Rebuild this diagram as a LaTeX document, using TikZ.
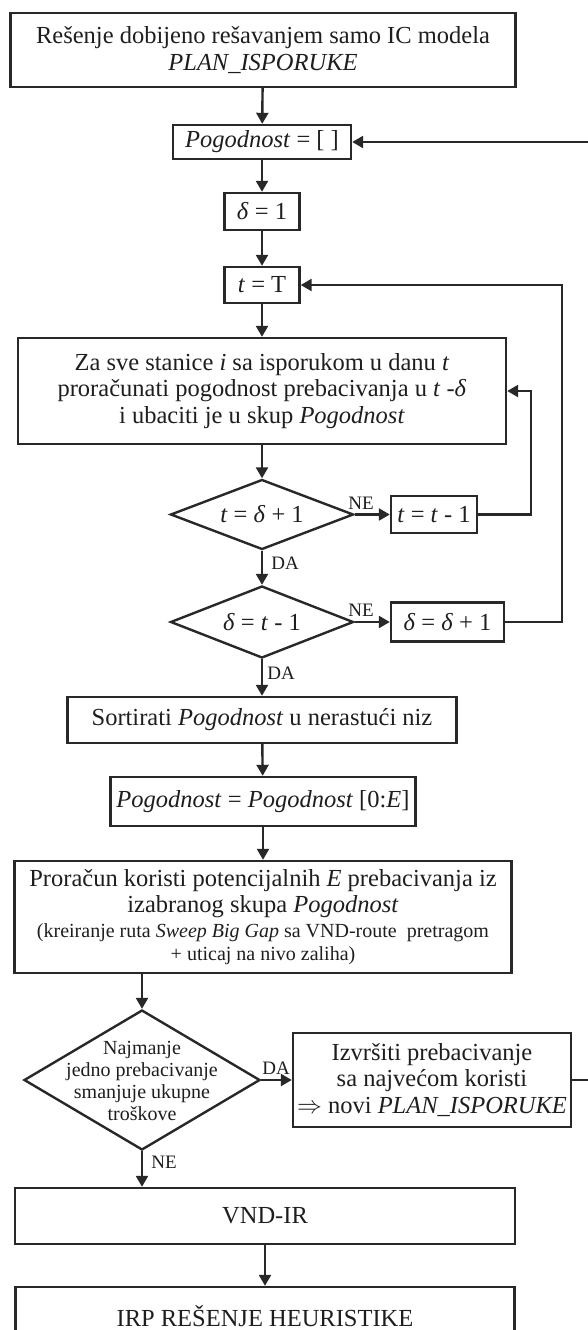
\documentclass[tikz,border=0pt]{standalone}
\usepackage{fontspec}
\setmainfont{Liberation Serif}
\usetikzlibrary{shapes.geometric,arrows.meta}
\definecolor{ln}{RGB}{40,40,40}
\definecolor{tx}{RGB}{30,30,30}
\newcommand\mainf{\fontsize{24.5}{26.5}\selectfont}
\newcommand\smallb{\fontsize{20}{26.5}\selectfont}
\newcommand\smalld{\fontsize{20}{22.3}\selectfont}
\newcommand\lblf{\fontsize{19}{21}\selectfont}
\tikzset{
  box/.style={draw=ln, line width=2.4pt, inner sep=0pt, align=center, text=tx, font=\mainf},
  dia/.style={draw=ln, line width=2.4pt, diamond, inner sep=0pt},
  dtext/.style={inner sep=0pt, align=center, text=tx},
  arr/.style={draw=ln, line width=2.4pt, -{Triangle[length=11pt,width=12pt]}},
  lbl/.style={font=\lblf, text=tx, inner sep=0pt},
}
\begin{document}
\begin{tikzpicture}[x=1pt,y=-1pt]
\useasboundingbox (0,0) rectangle (587,1330);
% boxes
\node[box, minimum width=505pt, minimum height=74pt] (b1) at (263,50)
  {Rešenje dobijeno rešavanjem samo IC modela\\ \textit{PLAN\_ISPORUKE}};
\node[box, minimum width=178pt, minimum height=34pt] (b2) at (262,142)
  {\textit{Pogodnost} = [ ]};
\node[box, minimum width=75pt, minimum height=37pt] (b3) at (262,211.5)
  {\textit{δ} = 1};
\node[box, minimum width=75pt, minimum height=36pt] (b4) at (262,285)
  {\textit{t} = T};
\node[box, minimum width=488pt, minimum height=106pt] (b5) at (262,391)
  {Za sve stanice \textit{i} sa isporukom u danu \textit{t}\\
   proračunati pogodnost prebacivanja u \textit{t} -\textit{δ}\\
   i ubaciti je u skup \textit{Pogodnost}};
\node[dia, minimum width=183pt, minimum height=70pt] (d1) at (262,514.5) {};
\node[dtext, font=\mainf] (d1t) at (d1.center) {\textit{t} = \textit{δ} + 1};
\node[box, minimum width=86pt, minimum height=37pt] (bt) at (434,514.5)
  {\textit{t} = \textit{t} - 1};
\node[dia, minimum width=183pt, minimum height=72pt] (d2) at (262,622) {};
\node[dtext, font=\mainf] (d2t) at (d2.center) {\textit{δ} = \textit{t} - 1};
\node[box, minimum width=113pt, minimum height=39pt] (bd) at (447.5,622)
  {\textit{δ} = \textit{δ} + 1};
\node[box, minimum width=389pt, minimum height=46pt] (b6) at (262,720)
  {Sortirati \textit{Pogodnost} u nerastući niz};
\node[box, minimum width=305pt, minimum height=49pt] (b7) at (263,801.5)
  {\textit{Pogodnost} = \textit{Pogodnost} [0:\textit{E}]};
\node[box, minimum width=497pt, minimum height=112pt] (b8) at (263,917)
  {Proračun koristi potencijalnih \textit{E} prebacivanja iz\\
   izabranog skupa \textit{Pogodnost}\\[-1.5pt]
   \smallb (kreiranje ruta \textit{Sweep Big Gap} sa VND-route\ \ pretragom\\[-3.5pt]
   \smallb + uticaj na nivo zaliha)};
\node[dia, minimum width=236pt, minimum height=140pt] (d3) at (142,1080) {};
\node[dtext, font=\smalld] (d3t) at (142,1081)
  {Najmanje\\ jedno prebacivanje\\ smanjuje ukupne\\ troškove};
\node[box, minimum width=278pt, minimum height=94pt] (b9) at (432,1080)
  {Izvršiti prebacivanje\\ sa najvećom koristi\\ $\Rightarrow$ novi \textit{PLAN\_ISPORUKE}};
\node[box, minimum width=500pt, minimum height=56pt] (b10) at (265,1216) {VND-IR};
\node[box, minimum width=499pt, minimum height=58pt] (b11) at (265,1316)
  {IRP REŠENJE HEURISTIKE};
% labels
\node[lbl] (ne1) at (361,503) {NE};
\node[lbl] (da1) at (285,563) {DA};
\node[lbl] (ne2) at (361,610) {NE};
\node[lbl] (da2) at (281,673) {DA};
\node[lbl] (da3) at (276,1068) {DA};
\node[lbl] (ne3) at (164,1162) {NE};
% corner coordinates for loops
\coordinate (c1) at (531,0);
\coordinate (c2) at (562,0);
\coordinate (c3) at (600,0);
% connectors
\draw[arr] (b1) -- (b2);
\draw[arr] (b2) -- (b3);
\draw[arr] (b3) -- (b4);
\draw[arr] (b4) -- (b5);
\draw[arr] (b5.south) -- (d1.north);
\draw[arr] (d1.east) -- (bt.west);
\draw[arr] (d1.south) -- (d2.north);
\draw[arr] (d2.east) -- (bd.west);
\draw[arr] (d2.south) -- (b6.north);
\draw[arr] (b6) -- (b7);
\draw[arr] (b7) -- (b8);
\draw[arr] (d3.north |- b8.south) -- (d3.north);
\draw[arr] (d3.east) -- (b9.west);
\draw[arr] (d3.south) -- (d3.south |- b10.north);
\draw[arr] (b10) -- (b11);
\draw[arr] (bt.east) -| (c1 |- b5.east) -- (b5.east);
\draw[arr] (bd.east) -| (c2 |- b4.east) -- (b4.east);
\draw[arr] (b9.east) -| (c3 |- b2.east) -- (b2.east);
\end{tikzpicture}
\end{document}
